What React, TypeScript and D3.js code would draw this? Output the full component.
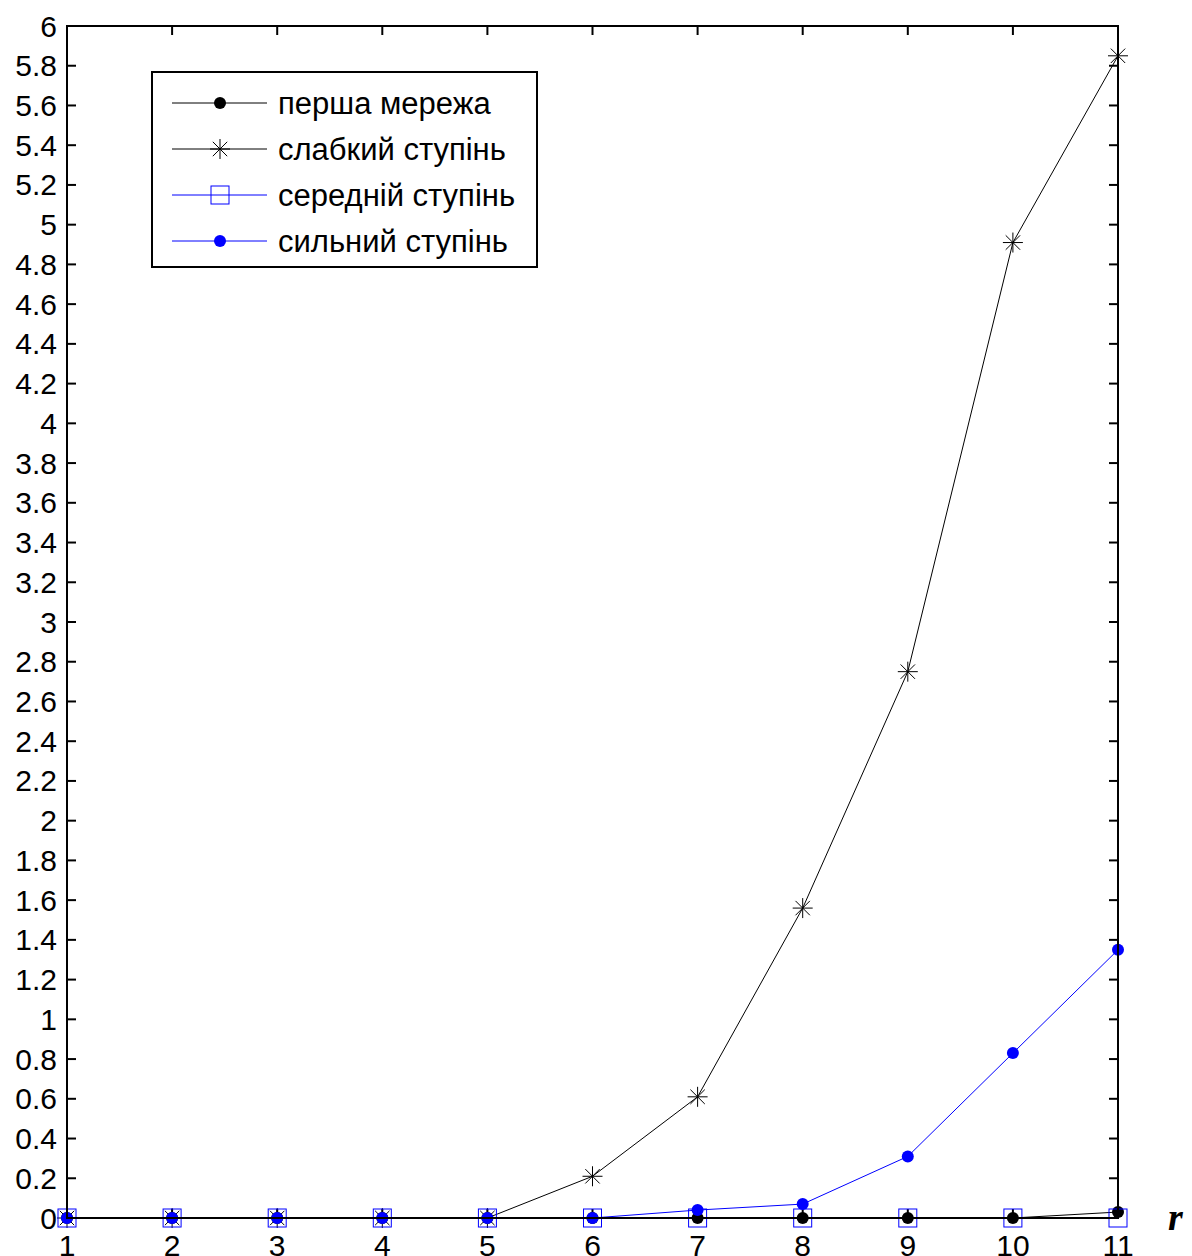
import * as d3 from "d3";
import React from "react";

const rValues = [1, 2, 3, 4, 5, 6, 7, 8, 9, 10, 11];
const firstNet = [0, 0, 0, 0, 0, 0, 0, 0, 0, 0, 0.03];
const weakDegree = [0, 0, 0, 0, 0, 0.21, 0.61, 1.56, 2.75, 4.91, 5.85];
const mediumDegree = [0, 0, 0, 0, 0, 0, 0, 0, 0, 0, 0];
const strongDegree = [0, 0, 0, 0, 0, 0, 0.04, 0.07, 0.31, 0.83, 1.35];
const yTicks = d3.range(0, 31).map((i) => i * 0.2);
const legendLabels = ["перша мережа", "слабкий ступінь", "середній ступінь", "сильний ступінь"];

const W = 1192;
const H = 1256;
const left = 67, right = 1118, top = 26, bottom = 1218;
const font = "'Liberation Sans', Arial, sans-serif";

function Star({ x, y, s = 10 }: { x: number; y: number; s?: number }) {
  const d = s * 0.72;
  return (
    <g stroke="#000" strokeWidth={1}>
      <line x1={x - s} y1={y} x2={x + s} y2={y} />
      <line x1={x} y1={y - s} x2={x} y2={y + s} />
      <line x1={x - d} y1={y - d} x2={x + d} y2={y + d} />
      <line x1={x - d} y1={y + d} x2={x + d} y2={y - d} />
    </g>
  );
}

export default function App() {
  const x = d3.scaleLinear().domain([1, 11]).range([left, right]);
  const y = d3.scaleLinear().domain([0, 6]).range([bottom, top]);
  const line = (vals: number[]) =>
    d3.line<number>().x((_, i) => x(rValues[i])).y((v) => y(v))(vals) || "";

  const tickLen = 9;
  const lx = 152, ly = 72, lw = 385, lh = 195;
  const rowY = (i: number) => ly + 31 + i * 46;

  return (
    <svg
      width={W}
      height={H}
      style={{ position: "absolute", left: 0, top: 0, background: "#fff" }}
      fontFamily={font}
    >
      <rect x={0} y={0} width={W} height={H} fill="#fff" />
      {/* ticks */}
      <g stroke="#000" strokeWidth={2}>
        {yTicks.map((t) => (
          <g key={"yt" + t}>
            <line x1={left} x2={left + tickLen} y1={y(t)} y2={y(t)} />
            <line x1={right} x2={right - tickLen} y1={y(t)} y2={y(t)} />
          </g>
        ))}
        {rValues.map((r) => (
          <g key={"xt" + r}>
            <line x1={x(r)} x2={x(r)} y1={top} y2={top + tickLen} />
            <line x1={x(r)} x2={x(r)} y1={bottom} y2={bottom - tickLen} />
          </g>
        ))}
      </g>
      {/* tick labels */}
      <g fontSize={30} fill="#000">
        {yTicks.map((t) => (
          <text key={"yl" + t} x={57} y={y(t)} textAnchor="end" dominantBaseline="central">
            {String(+t.toFixed(1))}
          </text>
        ))}
        {rValues.map((r) => (
          <text key={"xl" + r} x={x(r)} y={1256} textAnchor="middle">
            {r}
          </text>
        ))}
      </g>
      <text
        x={1168}
        y={1230}
        fontFamily="'Liberation Serif', 'Times New Roman', serif"
        fontStyle="italic"
        fontWeight="bold"
        fontSize={38}
      >
        r
      </text>

      {/* series */}
      <path d={line(firstNet)} fill="none" stroke="#000" strokeWidth={1} />
      {firstNet.map((v, i) => (
        <circle key={"f" + i} cx={x(rValues[i])} cy={y(v)} r={6} fill="#000" />
      ))}
      <path d={line(weakDegree)} fill="none" stroke="#000" strokeWidth={1} />
      {weakDegree.map((v, i) => (
        <Star key={"w" + i} x={x(rValues[i])} y={y(v)} />
      ))}
      <path d={line(mediumDegree)} fill="none" stroke="#0000ff" strokeWidth={1} />
      {mediumDegree.map((v, i) => (
        <rect
          key={"m" + i}
          x={x(rValues[i]) - 9}
          y={y(v) - 9}
          width={18}
          height={18}
          fill="none"
          stroke="#0000ff"
          strokeWidth={1}
        />
      ))}
      <path d={line(strongDegree)} fill="none" stroke="#0000ff" strokeWidth={1} />
      {strongDegree.map((v, i) => (
        <circle key={"s" + i} cx={x(rValues[i])} cy={y(v)} r={6} fill="#0000ff" />
      ))}

      {/* axes box */}
      <rect x={left} y={top} width={right - left} height={bottom - top} fill="none" stroke="#000" strokeWidth={2} />

      {/* legend */}
      <rect x={lx} y={ly} width={lw} height={lh} fill="#fff" stroke="#000" strokeWidth={2} />
      {legendLabels.map((lab, i) => {
        const cy = rowY(i);
        const color = i < 2 ? "#000" : "#0000ff";
        return (
          <g key={lab}>
            <line x1={172} x2={267} y1={cy} y2={cy} stroke={color} strokeWidth={1} />
            {i === 0 && <circle cx={220} cy={cy} r={6} fill="#000" />}
            {i === 1 && <Star x={220} y={cy} />}
            {i === 2 && (
              <rect x={211} y={cy - 9} width={18} height={18} fill="none" stroke="#0000ff" strokeWidth={1} />
            )}
            {i === 3 && <circle cx={220} cy={cy} r={6} fill="#0000ff" />}
            <text x={278} y={cy} fontSize={31} dominantBaseline="central" fill="#000">
              {lab}
            </text>
          </g>
        );
      })}
    </svg>
  );
}
